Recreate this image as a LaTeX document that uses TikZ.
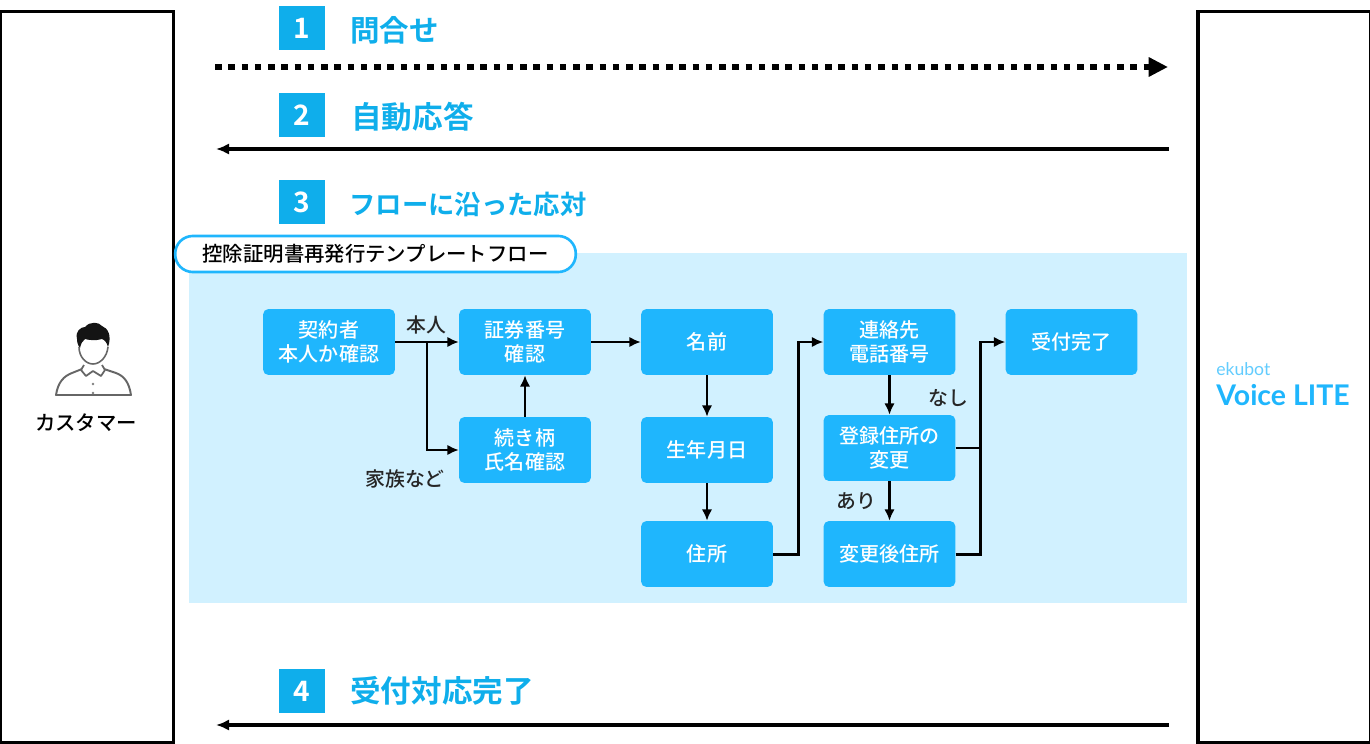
\documentclass[tikz,border=0pt]{standalone}
\usepackage{fontspec}
\setmainfont{Noto Sans CJK JP Medium}[BoldFont={Noto Sans CJK JP Bold}]
\newfontfamily\logofont{Lato}
\usepackage{xcolor}
\usetikzlibrary{arrows.meta}
\definecolor{headblue}{HTML}{0FAEEB}
\definecolor{boxblue}{HTML}{1FB6FD}
\definecolor{paleblue}{HTML}{D1F1FF}
\tikzset{
	panel/.style={draw=black,line width=1.8pt,fill=white},
	numbox/.style={fill=headblue,text=white,minimum width=26pt,minimum height=25.5pt,inner sep=0pt,font=\fontsize{16}{18}\selectfont\bfseries},
	headtext/.style={text=headblue,anchor=west,inner sep=0pt,font=\fontsize{17.4}{20}\selectfont\bfseries},
	flowbox/.style={fill=boxblue,text=white,rounded corners=3pt,minimum width=75pt,minimum height=37.5pt,inner sep=0pt,align=center,font=\fontsize{11.4}{13.7}\selectfont},
	flowlabel/.style={inner sep=0pt,text=black!85,font=\fontsize{11.3}{13}\selectfont},
	flowline/.style={line width=1.7pt,-{Latex[length=6.5pt,width=6pt]}},
	flowjoin/.style={line width=1.7pt},
	msgline/.style={line width=1.8pt,-{Latex[length=7.5pt,width=6.5pt]}}
}
\begin{document}
\begin{tikzpicture}[x=0.02cm,y=-0.02cm]
	\useasboundingbox (0,0) rectangle (1370,744);
	% side panels
	\node[panel,minimum width=98pt,minimum height=416pt,inner sep=0pt] (customer) at (87,377) {};
	\node[panel,minimum width=98pt,minimum height=416pt,inner sep=0pt] (system) at (1284,377) {};
	% person
	\fill[black!92] (77,339) .. controls (75,331) and (81,327) .. (85,327)
		.. controls (90,321) and (99,322) .. (102,326)
		.. controls (108,328) and (112,336) .. (108,347)
		.. controls (107,343) and (105,340) .. (102,339)
		.. controls (96,341) and (88,340) .. (85,339)
		.. controls (82,341) and (81,344) .. (80,348)
		.. controls (78,346) and (77,342) .. (77,339) -- cycle;
	\draw[black!60,line width=0.9pt] (79,347) .. controls (79,357) and (86,364) .. (93,364)
		.. controls (100,364) and (107,357) .. (108,347);
	\draw[black!60,line width=1.1pt,line join=round] (82,369) -- (72,373) .. controls (64,376) and (58,382) .. (56,395)
		-- (131,395) .. controls (129,382) and (124,376) .. (116,373) -- (104,369);
	\draw[black!60,line width=1pt,line join=round] (84,365) -- (81,370) -- (86,376) -- (93,371) -- (101,376) -- (105,370) -- (102,365);
	\fill[black!50] (93,384) circle (1.4) (93,393) circle (1.4);
	\node[inner sep=0pt,font=\fontsize{11.6}{14}\selectfont] (customername) at (86,423) {カスタマー};
	% logo
	\node[anchor=west,inner sep=0pt,text=boxblue!70,font=\logofont\fontsize{10}{11}\selectfont] (logotop) at (1216,369) {ekubot};
	\node[anchor=west,inner sep=0pt,text=boxblue,font=\logofont\fontsize{16.2}{18}\selectfont\bfseries] (logomain) at (1216,395) {Voice LITE};
	% steps
	\node[numbox] (n1) at (302,28) {1};
	\node[headtext,font=\fontsize{16.8}{20}\selectfont\bfseries] (h1) at (350,30) {問合せ};
	\node[numbox] (n2) at (302,115) {2};
	\node[headtext] (h2) at (351,117) {自動応答};
	\node[numbox] (n3) at (302,202) {3};
	\node[headtext,font=\fontsize{15}{20}\selectfont\bfseries] (h3) at (349,204) {フローに沿った応対};
	\node[numbox] (n4) at (302,691) {4};
	\node[headtext] (h4) at (350,691) {受付対応完了};
	\coordinate (a1) at (215,67);
	\coordinate (b1) at (1168,67);
	\coordinate (a2) at (1169,149);
	\coordinate (b2) at (216,149);
	\coordinate (a4) at (1169,725);
	\coordinate (b4) at (216,725);
	\draw[line width=3.4pt,dash pattern=on 3.7pt off 3.85pt,-{Triangle[length=11pt,width=10.5pt]}] (a1) -- (b1);
	\draw[msgline] (a2) -- (b2);
	\draw[msgline] (a4) -- (b4);
	% flow area
	\node[fill=paleblue,minimum width=567.7pt,minimum height=199pt,inner sep=0pt] (flowarea) at (688,428) {};
	\node[draw=boxblue,line width=1.5pt,fill=white,rounded corners=10pt,minimum width=228pt,minimum height=20.5pt,inner sep=0pt,font=\fontsize{11.6}{14}\selectfont] (flowtitle) at (375.5,254) {控除証明書再発行テンプレートフロー};
	% flow boxes
	\node[flowbox] (kei) at (329,342) {契約者\\本人か確認};
	\node[flowbox] (sho) at (525,342) {証券番号\\確認};
	\node[flowbox] (tsu) at (525,450) {続き柄\\氏名確認};
	\node[flowbox] (nam) at (707,342) {名前};
	\node[flowbox] (bir) at (707,450) {生年月日};
	\node[flowbox] (adr) at (707,554) {住所};
	\node[flowbox] (ren) at (889.5,342) {連絡先\\電話番号};
	\node[flowbox] (tou) at (889.5,448) {登録住所の\\変更};
	\node[flowbox] (hen) at (889.5,554) {変更後住所};
	\node[flowbox] (uke) at (1071.5,342) {受付完了};
	% labels
	\node[flowlabel] (honnin) at (426,325) {本人};
	\node[flowlabel] (kazoku) at (405,479) {家族など};
	\node[flowlabel] (nashi) at (948,398) {なし};
	\node[flowlabel] (ari) at (856,501) {あり};
	% connectors
	\coordinate (j1) at (427,342);
	\draw[flowline] (kei) -- (sho);
	\draw[flowline] (j1) |- (tsu);
	\draw[flowline] (tsu) -- (sho);
	\draw[flowline] (sho) -- (nam);
	\draw[flowline] (nam) -- (bir);
	\draw[flowline] (bir) -- (adr);
	\draw[flowline] (adr.east) -| (798,342) -- (ren.west);
	\draw[flowline] (ren) -- (tou);
	\draw[flowline] (tou) -- (hen);
	\draw[flowline] (hen.east) -| (980,342) -- (uke.west);
	\draw[flowjoin] (tou.east) -- (980,448);
\end{tikzpicture}
\end{document}
